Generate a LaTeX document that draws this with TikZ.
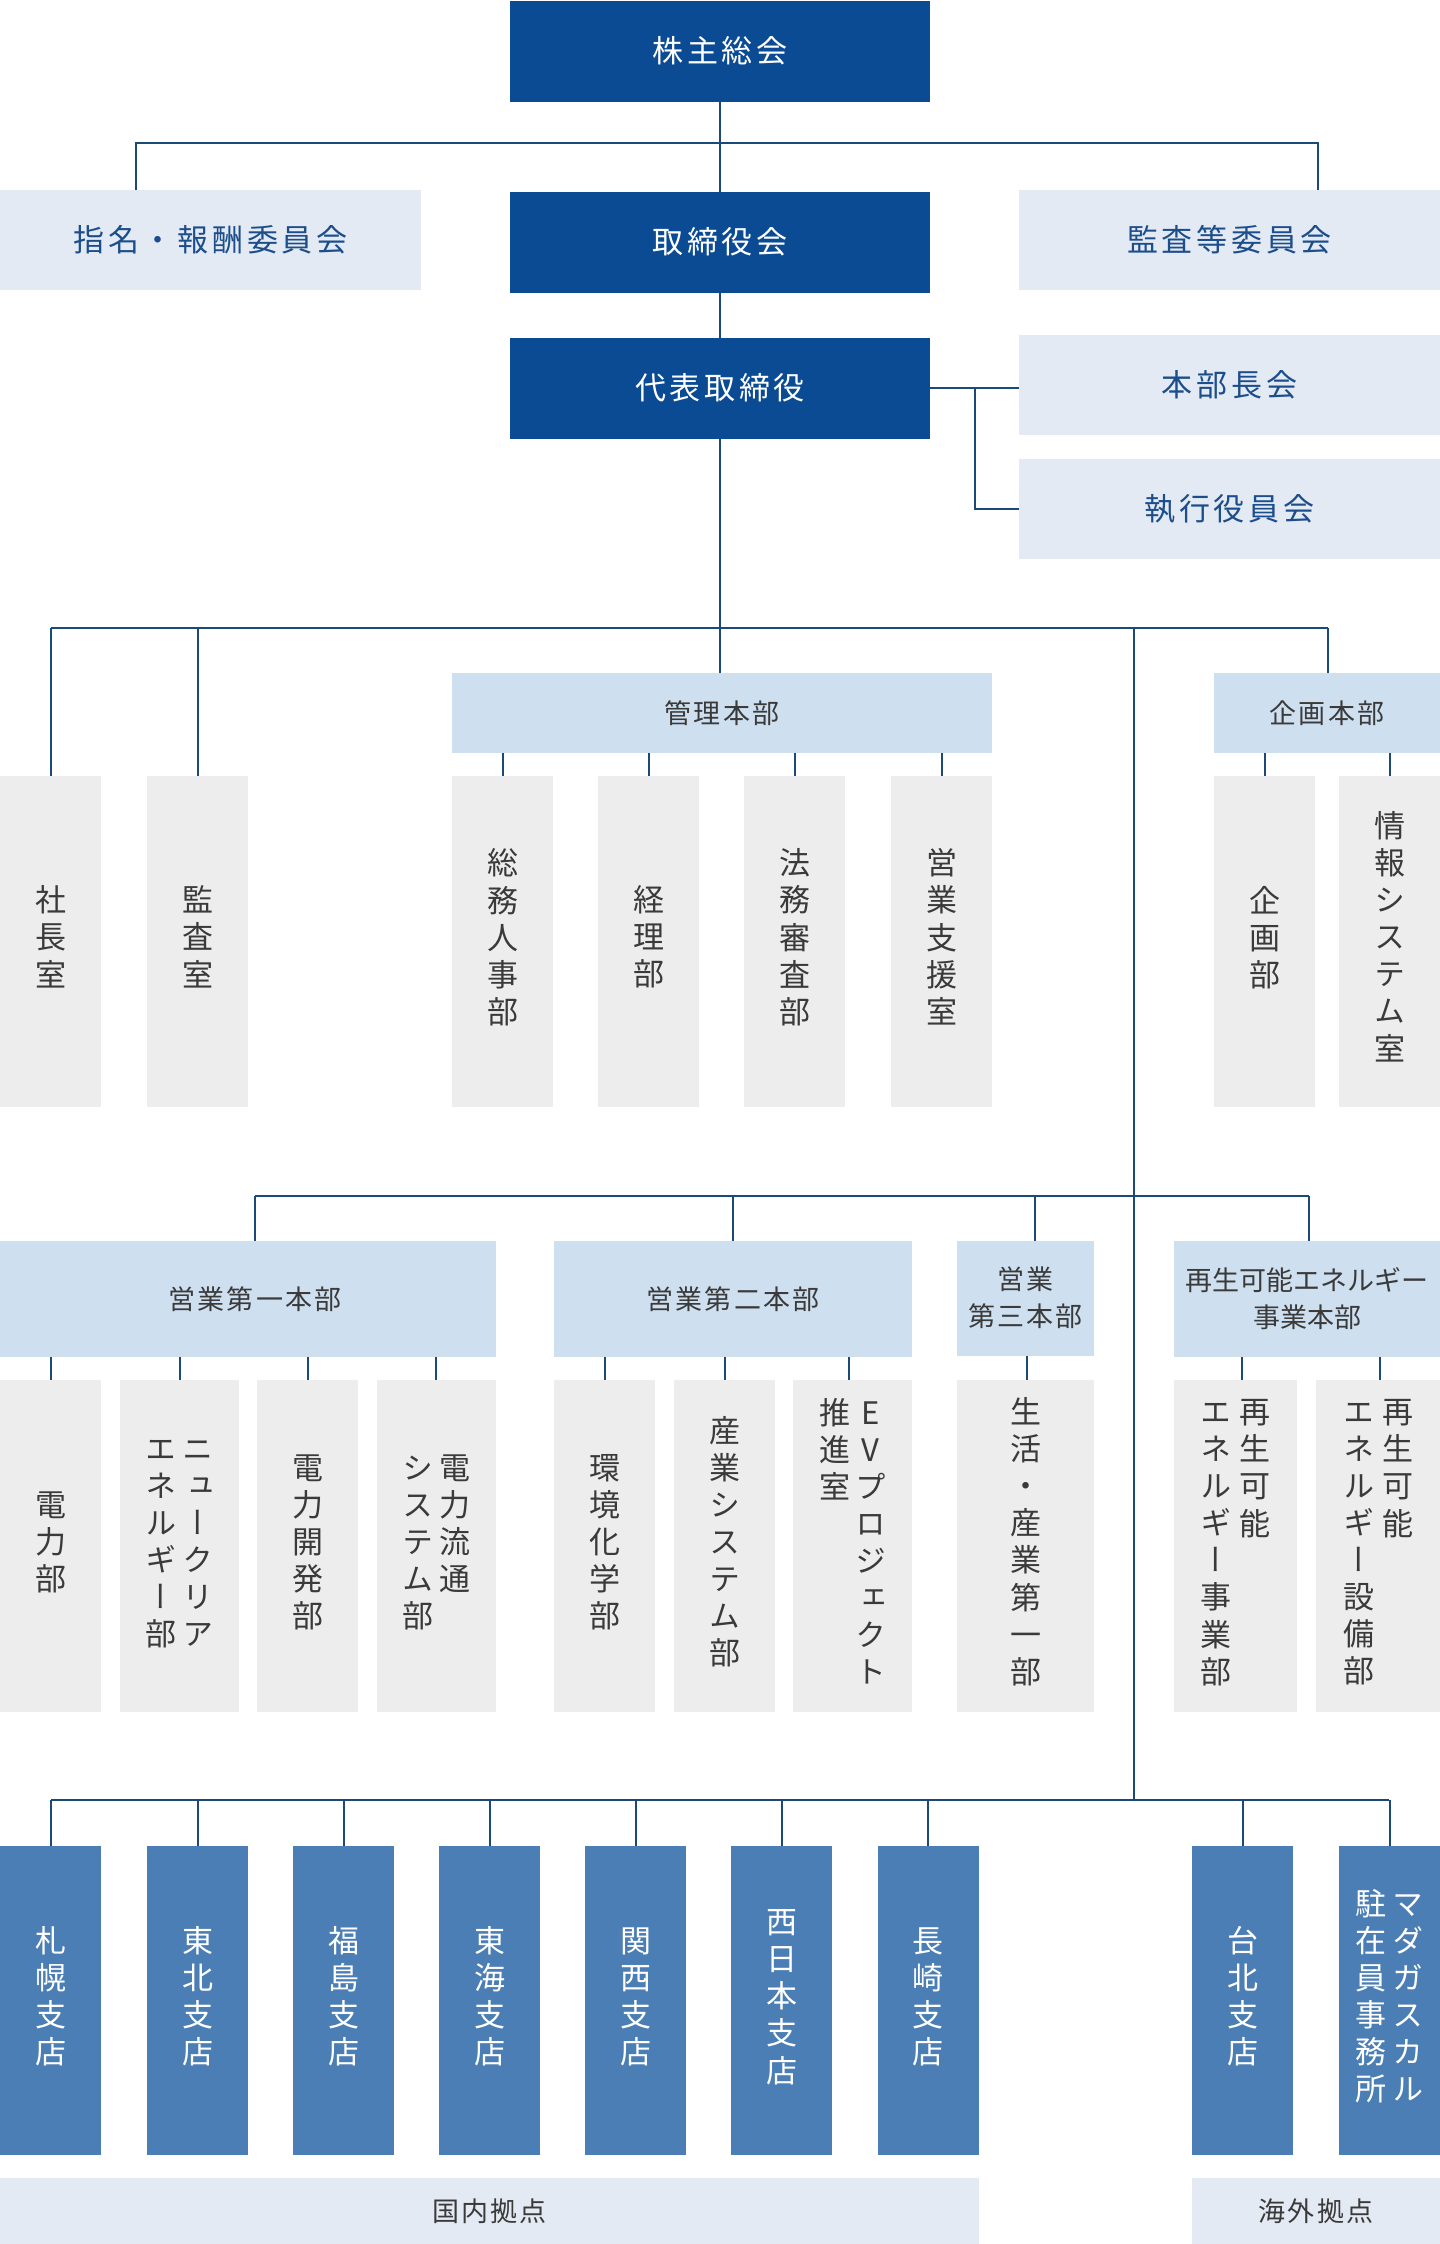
\documentclass[tikz,border=0pt]{standalone}
\usepackage{fontspec}
\setmainfont{Noto Sans CJK JP}
\newfontfamily\hfont[LetterSpace=12]{Noto Sans CJK JP}
\newfontfamily\sfont[LetterSpace=8]{Noto Sans CJK JP}
\newfontfamily\vfont[RawFeature=+vert]{Noto Sans CJK JP}
\definecolor{navy}{HTML}{0A4B94}
\definecolor{pale}{HTML}{E3EAF3}
\definecolor{hdrblue}{HTML}{CEDFF0}
\definecolor{leafgray}{HTML}{EDEDED}
\definecolor{midblue}{HTML}{4A7EB4}
\definecolor{linecol}{HTML}{1C4A78}
\definecolor{paletext}{HTML}{1C4E8C}
\definecolor{graytext}{HTML}{3A3A3A}
\newcommand{\vt}[1]{\begin{tabular}[t]{@{}c@{}}#1\end{tabular}}

\begin{document}
\begin{tikzpicture}[x=1pt,y=-1pt]
      \tikzstyle{every node}=[inner sep=0pt, outer sep=0pt]
      \tikzstyle{link}=[draw=linecol, line width=2pt]
      \tikzstyle{topbox}=[fill=navy, text=white, minimum width=420pt, minimum height=101pt, font=\hfont\fontsize{31}{37}\selectfont]
      \tikzstyle{palebox}=[fill=pale, text=paletext, minimum width=421pt, minimum height=100pt, font=\hfont\fontsize{31}{37}\selectfont]
      \tikzstyle{hdr}=[fill=hdrblue, text=graytext, align=center, font=\sfont\fontsize{27}{37}\selectfont]
      \tikzstyle{leaf}=[fill=leafgray, text=graytext, minimum width=101pt, minimum height=331pt, font=\vfont\fontsize{31}{37}\selectfont]
      \tikzstyle{branch}=[fill=midblue, text=white, minimum width=101pt, minimum height=309pt, font=\vfont\fontsize{31}{37}\selectfont]
      \tikzstyle{base}=[fill=pale, text=graytext, minimum height=66pt, font=\sfont\fontsize{27}{33}\selectfont]

      \useasboundingbox (0,0) rectangle (1440,2244);

      \node[topbox] (agm) at (720,51) {株主総会};
      \node[palebox] (nom) at (210.5,240) {指名・報酬委員会};
      \node[topbox] (board) at (720,242) {取締役会};
      \node[palebox] (audit) at (1229.5,240) {監査等委員会};
      \node[topbox] (ceo) at (720,388) {代表取締役};
      \node[palebox] (gm) at (1229.5,385) {本部長会};
      \node[palebox] (exec) at (1229.5,509) {執行役員会};

      \node[hdr, minimum width=540pt, minimum height=80pt] (admin) at (722,713) {管理本部};
      \node[hdr, minimum width=226pt, minimum height=80pt] (plan) at (1327,713) {企画本部};
      \node[leaf] (pres) at (50.5,941.5) {\vt{社\\長\\室}};
      \node[leaf] (kansa) at (197.5,941.5) {\vt{監\\査\\室}};
      \node[leaf] (ga) at (502.5,941.5) {\vt{総\\務\\人\\事\\部}};
      \node[leaf] (acc) at (648.5,941.5) {\vt{経\\理\\部}};
      \node[leaf] (legal) at (794.5,941.5) {\vt{法\\務\\審\\査\\部}};
      \node[leaf] (sup) at (941.5,941.5) {\vt{営\\業\\支\\援\\室}};
      \node[leaf] (plandep) at (1264.5,941.5) {\vt{企\\画\\部}};
      \node[leaf] (it) at (1389.5,941.5) {\vt{情\\報\\シ\\ス\\テ\\ム\\室}};

      \node[hdr, minimum width=496pt, minimum height=116pt] (sales1) at (248,1299) {\hspace*{14pt}営業第一本部};
      \node[hdr, minimum width=358pt, minimum height=116pt] (sales2) at (733,1299) {営業第二本部};
      \node[hdr, minimum width=137pt, minimum height=115pt] (sales3) at (1025.5,1298) {営業\\第三本部};
      \node[hdr, minimum width=266pt, minimum height=116pt, font=\normalfont\fontsize{27}{37}\selectfont] (renew) at (1307,1299) {再生可能エネルギー\\事業本部};
      \node[leaf, minimum height=332pt] (elec) at (50.5,1546) {\vt{電\\力\\部}};
      \node[leaf, minimum height=332pt, minimum width=119pt] (nuc) at (179.5,1546) {\vt{エ\\ネ\\ル\\ギ\\ー\\部}\hspace{6pt}\vt{ニ\\ュ\\ー\\ク\\リ\\ア}};
      \node[leaf, minimum height=332pt] (dev) at (307.5,1546) {\vt{電\\力\\開\\発\\部}};
      \node[leaf, minimum height=332pt, minimum width=119pt] (grid) at (436.5,1546) {\vt{シ\\ス\\テ\\ム\\部}\hspace{6pt}\vt{電\\力\\流\\通}};
      \node[leaf, minimum height=332pt] (env) at (604.5,1546) {\vt{環\\境\\化\\学\\部}};
      \node[leaf, minimum height=332pt] (ind) at (724.5,1546) {\vt{産\\業\\シ\\ス\\テ\\ム\\部}};
      \node[leaf, minimum height=332pt, minimum width=119pt] (ev) at (852.5,1546) {\vt{推\\進\\室}\hspace{5pt}\vt{E\\V\\プ\\ロ\\ジ\\ェ\\ク\\ト}};
      \node[leaf, minimum height=332pt, minimum width=137pt] (life) at (1025.5,1546) {\vt{生\\活\\・\\産\\業\\第\\一\\部}};
      \node[leaf, minimum height=332pt, minimum width=123pt] (rea) at (1235.5,1546) {\vt{エ\\ネ\\ル\\ギ\\ー\\事\\業\\部}\hspace{8pt}\vt{再\\生\\可\\能}};
      \node[leaf, minimum height=332pt, minimum width=124pt] (reb) at (1378,1546) {\vt{エ\\ネ\\ル\\ギ\\ー\\設\\備\\部}\hspace{8pt}\vt{再\\生\\可\\能}};

      \node[branch] (sap) at (50.5,2000.5) {\vt{札\\幌\\支\\店}};
      \node[branch] (toh) at (197.5,2000.5) {\vt{東\\北\\支\\店}};
      \node[branch] (fuk) at (343.5,2000.5) {\vt{福\\島\\支\\店}};
      \node[branch] (tok) at (489.5,2000.5) {\vt{東\\海\\支\\店}};
      \node[branch] (kan) at (635.5,2000.5) {\vt{関\\西\\支\\店}};
      \node[branch] (wj) at (781.5,2000.5) {\vt{西\\日\\本\\支\\店}};
      \node[branch] (nag) at (928,2000.5) {\vt{長\\崎\\支\\店}};
      \node[branch] (tpe) at (1242.5,2000.5) {\vt{台\\北\\支\\店}};
      \node[branch] (mad) at (1389.5,2000.5) {\vt{駐\\在\\員\\事\\務\\所}\hspace{6pt}\vt{マ\\ダ\\ガ\\ス\\カ\\ル}};
      \node[base, minimum width=979pt] (dom) at (489.5,2211) {国内拠点};
      \node[base, minimum width=248pt] (ovs) at (1316,2211) {海外拠点};

      \coordinate (b1l) at (136,143);
      \coordinate (b1r) at (1318,143);
      \draw[link] (agm) -- (board);
      \draw[link] (nom.north -| b1l) -- (b1l) -- (b1r) -- (audit.north -| b1r);
      \draw[link] (board) -- (ceo);
      \coordinate (j1) at (975,388);
      \draw[link] (ceo.east) -- (ceo.east -| gm.west);
      \draw[link] (j1) |- (exec.west);

      \coordinate (b2l) at (51,628);
      \coordinate (b2r) at (1328,628);
      \draw[link] (ceo.south) -- (ceo.south |- admin.north);
      \draw[link] (b2l) -- (b2r);
      \draw[link] (b2l) -- (b2l |- pres.north);
      \draw[link] (kansa.north |- b2l) -- (kansa.north);
      \draw[link] (b2r) -- (b2r |- plan.north);
      \foreach \n in {ga,acc,legal,sup} \draw[link] (admin.south -| \n.north) -- (\n.north);
      \foreach \n in {plandep,it} \draw[link] (plan.south -| \n.north) -- (\n.north);

      \coordinate (t2) at (1134,628);
      \coordinate (t4) at (1134,1800);
      \draw[link] (t2) -- (t4);

      \coordinate (b3l) at (255,1196);
      \coordinate (b3c) at (1035,1196);
      \coordinate (b3r) at (1309,1196);
      \draw[link] (b3l) -- (b3r);
      \draw[link] (b3l) -- (b3l |- sales1.north);
      \draw[link] (sales2.north |- b3l) -- (sales2.north);
      \draw[link] (b3c) -- (b3c |- sales3.north);
      \draw[link] (b3r) -- (b3r |- renew.north);
      \foreach \h/\n/\d in {sales1/elec/0,sales1/nuc/0,sales1/dev/0,sales1/grid/-1,sales2/env/0,sales2/ind/0,sales2/ev/-4,sales3/life/1,renew/rea/6,renew/reb/2}
        \draw[link] ([xshift=\d pt]\n.north) -- ([xshift=\d pt]\n.north |- \h.south);

      \coordinate (b4l) at (51,1800);
      \coordinate (b4r) at (1389,1800);
      \draw[link] (b4l) -- (b4r);
      \foreach \n in {sap,toh,fuk,tok,kan,wj,nag,tpe,mad} \draw[link] (\n.north |- b4l) -- (\n.north);
    \end{tikzpicture}
\end{document}
